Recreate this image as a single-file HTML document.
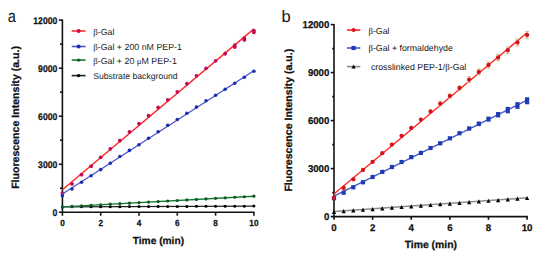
<!DOCTYPE html>
<html><head><meta charset="utf-8"><style>
html,body{margin:0;padding:0;background:#fff;}
body{width:550px;height:260px;overflow:hidden;}
svg{display:block;font-family:'Liberation Sans', sans-serif;}
text{text-rendering:geometricPrecision;}
text[font-weight=bold]{stroke:#111;stroke-width:0.25px;}
</style></head><body>
<svg width="550" height="260" viewBox="0 0 550 260" fill="#111">
<line x1="62.4" y1="19.5" x2="62.4" y2="215.7" stroke="#111" stroke-width="1.6" />
<line x1="58.9" y1="212.3" x2="254.5" y2="212.3" stroke="#111" stroke-width="1.6" />
<line x1="58.9" y1="164.25" x2="62.4" y2="164.25" stroke="#111" stroke-width="1.6" />
<line x1="58.9" y1="116.2" x2="62.4" y2="116.2" stroke="#111" stroke-width="1.6" />
<line x1="58.9" y1="68.15" x2="62.4" y2="68.15" stroke="#111" stroke-width="1.6" />
<line x1="58.9" y1="20.1" x2="62.4" y2="20.1" stroke="#111" stroke-width="1.6" />
<line x1="60" y1="188.27" x2="62.4" y2="188.27" stroke="#111" stroke-width="1.6" />
<line x1="60" y1="140.22" x2="62.4" y2="140.22" stroke="#111" stroke-width="1.6" />
<line x1="60" y1="92.17" x2="62.4" y2="92.17" stroke="#111" stroke-width="1.6" />
<line x1="60" y1="44.12" x2="62.4" y2="44.12" stroke="#111" stroke-width="1.6" />
<line x1="100.7" y1="212.3" x2="100.7" y2="215.7" stroke="#111" stroke-width="1.6" />
<line x1="139" y1="212.3" x2="139" y2="215.7" stroke="#111" stroke-width="1.6" />
<line x1="177.3" y1="212.3" x2="177.3" y2="215.7" stroke="#111" stroke-width="1.6" />
<line x1="215.6" y1="212.3" x2="215.6" y2="215.7" stroke="#111" stroke-width="1.6" />
<line x1="253.9" y1="212.3" x2="253.9" y2="215.7" stroke="#111" stroke-width="1.6" />
<line x1="62.4" y1="206.9" x2="253.9" y2="206.1" stroke="#222" stroke-width="1.3" />
<circle cx="62.4" cy="206.9" r="1.5" fill="#000"/>
<circle cx="71.97" cy="206.86" r="1.5" fill="#000"/>
<circle cx="81.55" cy="206.82" r="1.5" fill="#000"/>
<circle cx="91.12" cy="206.78" r="1.5" fill="#000"/>
<circle cx="100.7" cy="206.74" r="1.5" fill="#000"/>
<circle cx="110.28" cy="206.7" r="1.5" fill="#000"/>
<circle cx="119.85" cy="206.66" r="1.5" fill="#000"/>
<circle cx="129.42" cy="206.62" r="1.5" fill="#000"/>
<circle cx="139" cy="206.58" r="1.5" fill="#000"/>
<circle cx="148.57" cy="206.54" r="1.5" fill="#000"/>
<circle cx="158.15" cy="206.5" r="1.5" fill="#000"/>
<circle cx="167.72" cy="206.46" r="1.5" fill="#000"/>
<circle cx="177.3" cy="206.42" r="1.5" fill="#000"/>
<circle cx="186.88" cy="206.38" r="1.5" fill="#000"/>
<circle cx="196.45" cy="206.34" r="1.5" fill="#000"/>
<circle cx="206.03" cy="206.3" r="1.5" fill="#000"/>
<circle cx="215.6" cy="206.26" r="1.5" fill="#000"/>
<circle cx="225.17" cy="206.22" r="1.5" fill="#000"/>
<circle cx="234.75" cy="206.18" r="1.5" fill="#000"/>
<circle cx="244.32" cy="206.14" r="1.5" fill="#000"/>
<circle cx="253.9" cy="206.1" r="1.5" fill="#000"/>
<line x1="62.4" y1="206.9" x2="253.9" y2="196.3" stroke="#177a34" stroke-width="1.4" />
<circle cx="62.4" cy="206.9" r="1.6" fill="#0c5a28"/>
<circle cx="71.97" cy="206.37" r="1.6" fill="#0c5a28"/>
<circle cx="81.55" cy="205.83" r="1.6" fill="#0c5a28"/>
<circle cx="91.12" cy="205.3" r="1.6" fill="#0c5a28"/>
<circle cx="100.7" cy="204.76" r="1.6" fill="#0c5a28"/>
<circle cx="110.28" cy="204.22" r="1.6" fill="#0c5a28"/>
<circle cx="119.85" cy="203.69" r="1.6" fill="#0c5a28"/>
<circle cx="129.42" cy="203.16" r="1.6" fill="#0c5a28"/>
<circle cx="139" cy="202.62" r="1.6" fill="#0c5a28"/>
<circle cx="148.57" cy="202.09" r="1.6" fill="#0c5a28"/>
<circle cx="158.15" cy="201.55" r="1.6" fill="#0c5a28"/>
<circle cx="167.72" cy="201.01" r="1.6" fill="#0c5a28"/>
<circle cx="177.3" cy="200.48" r="1.6" fill="#0c5a28"/>
<circle cx="186.88" cy="199.94" r="1.6" fill="#0c5a28"/>
<circle cx="196.45" cy="199.41" r="1.6" fill="#0c5a28"/>
<circle cx="206.03" cy="198.88" r="1.6" fill="#0c5a28"/>
<circle cx="215.6" cy="198.34" r="1.6" fill="#0c5a28"/>
<circle cx="225.17" cy="197.8" r="1.6" fill="#0c5a28"/>
<circle cx="234.75" cy="197.27" r="1.6" fill="#0c5a28"/>
<circle cx="244.32" cy="196.73" r="1.6" fill="#0c5a28"/>
<circle cx="253.9" cy="196.2" r="1.6" fill="#0c5a28"/>
<line x1="62.4" y1="189.8" x2="253.9" y2="28.9" stroke="#ff2a2a" stroke-width="1.45" />
<rect x="60.55" y="191.4" width="3.7" height="3.8" rx="1.85" fill="#c20a55"/>
<rect x="70.12" y="182" width="3.7" height="3.8" rx="1.85" fill="#c20a55"/>
<rect x="79.7" y="172.7" width="3.7" height="3.8" rx="1.85" fill="#c20a55"/>
<rect x="89.28" y="164.2" width="3.7" height="3.8" rx="1.85" fill="#c20a55"/>
<rect x="98.85" y="155.4" width="3.7" height="3.8" rx="1.85" fill="#c20a55"/>
<rect x="108.43" y="146.9" width="3.7" height="3.8" rx="1.85" fill="#c20a55"/>
<rect x="118" y="138.7" width="3.7" height="3.8" rx="1.85" fill="#c20a55"/>
<rect x="127.57" y="129.9" width="3.7" height="3.8" rx="1.85" fill="#c20a55"/>
<rect x="137.15" y="121.8" width="3.7" height="3.8" rx="1.85" fill="#c20a55"/>
<rect x="146.72" y="113.7" width="3.7" height="3.8" rx="1.85" fill="#c20a55"/>
<rect x="156.3" y="105.6" width="3.7" height="3.8" rx="1.85" fill="#c20a55"/>
<rect x="165.88" y="97.9" width="3.7" height="3.8" rx="1.85" fill="#c20a55"/>
<rect x="175.45" y="89.9" width="3.7" height="3.8" rx="1.85" fill="#c20a55"/>
<rect x="185.03" y="81.8" width="3.7" height="3.8" rx="1.85" fill="#c20a55"/>
<rect x="194.6" y="73.9" width="3.7" height="3.8" rx="1.85" fill="#c20a55"/>
<rect x="204.18" y="66.4" width="3.7" height="3.8" rx="1.85" fill="#c20a55"/>
<rect x="213.75" y="58.9" width="3.7" height="3.8" rx="1.85" fill="#c20a55"/>
<rect x="223.32" y="51.5" width="3.7" height="4.2" rx="1.85" fill="#c20a55"/>
<rect x="232.9" y="43.3" width="3.7" height="5.6" rx="1.85" fill="#c20a55"/>
<rect x="242.47" y="36.2" width="3.7" height="5.6" rx="1.85" fill="#c20a55"/>
<rect x="252.05" y="28.7" width="3.7" height="5.6" rx="1.85" fill="#c20a55"/>
<line x1="62.4" y1="194" x2="253.9" y2="70.8" stroke="#4a55c8" stroke-width="1.3" />
<circle cx="62.4" cy="195.8" r="1.8" fill="#1a2cb2"/>
<circle cx="71.97" cy="189" r="1.8" fill="#1a2cb2"/>
<circle cx="81.55" cy="182.3" r="1.8" fill="#1a2cb2"/>
<circle cx="91.12" cy="175.8" r="1.8" fill="#1a2cb2"/>
<circle cx="100.7" cy="169.6" r="1.8" fill="#1a2cb2"/>
<circle cx="110.28" cy="163.3" r="1.8" fill="#1a2cb2"/>
<circle cx="119.85" cy="156.5" r="1.8" fill="#1a2cb2"/>
<circle cx="129.42" cy="150.4" r="1.8" fill="#1a2cb2"/>
<circle cx="139" cy="144.7" r="1.8" fill="#1a2cb2"/>
<circle cx="148.57" cy="138.3" r="1.8" fill="#1a2cb2"/>
<circle cx="158.15" cy="131.7" r="1.8" fill="#1a2cb2"/>
<circle cx="167.72" cy="125.3" r="1.8" fill="#1a2cb2"/>
<circle cx="177.3" cy="119.5" r="1.8" fill="#1a2cb2"/>
<circle cx="186.88" cy="113.2" r="1.8" fill="#1a2cb2"/>
<circle cx="196.45" cy="107.1" r="1.8" fill="#1a2cb2"/>
<circle cx="206.03" cy="100.8" r="1.8" fill="#1a2cb2"/>
<circle cx="215.6" cy="95.2" r="1.8" fill="#1a2cb2"/>
<circle cx="225.17" cy="89.2" r="1.8" fill="#1a2cb2"/>
<circle cx="234.75" cy="83.3" r="1.8" fill="#1a2cb2"/>
<circle cx="244.32" cy="77.3" r="1.8" fill="#1a2cb2"/>
<circle cx="253.9" cy="71.2" r="1.8" fill="#1a2cb2"/>
<text x="57.3" y="216.1" font-size="9.6" font-weight="bold" text-anchor="end" textLength="4.8" lengthAdjust="spacingAndGlyphs">0</text>
<text x="57.3" y="168.05" font-size="9.6" font-weight="bold" text-anchor="end" textLength="19.2" lengthAdjust="spacingAndGlyphs">3000</text>
<text x="57.3" y="120" font-size="9.6" font-weight="bold" text-anchor="end" textLength="19.2" lengthAdjust="spacingAndGlyphs">6000</text>
<text x="57.3" y="71.95" font-size="9.6" font-weight="bold" text-anchor="end" textLength="19.2" lengthAdjust="spacingAndGlyphs">9000</text>
<text x="57.3" y="23.9" font-size="9.6" font-weight="bold" text-anchor="end" textLength="24" lengthAdjust="spacingAndGlyphs">12000</text>
<text x="62.4" y="226.2" font-size="8.9" font-weight="bold" text-anchor="middle" textLength="4.55" lengthAdjust="spacingAndGlyphs">0</text>
<text x="100.7" y="226.2" font-size="8.9" font-weight="bold" text-anchor="middle" textLength="4.55" lengthAdjust="spacingAndGlyphs">2</text>
<text x="139" y="226.2" font-size="8.9" font-weight="bold" text-anchor="middle" textLength="4.55" lengthAdjust="spacingAndGlyphs">4</text>
<text x="177.3" y="226.2" font-size="8.9" font-weight="bold" text-anchor="middle" textLength="4.55" lengthAdjust="spacingAndGlyphs">6</text>
<text x="215.6" y="226.2" font-size="8.9" font-weight="bold" text-anchor="middle" textLength="4.55" lengthAdjust="spacingAndGlyphs">8</text>
<text x="253.9" y="226.2" font-size="8.9" font-weight="bold" text-anchor="middle" textLength="9.1" lengthAdjust="spacingAndGlyphs">10</text>
<text x="158.4" y="244" font-size="10.2" font-weight="bold" text-anchor="middle" >Time (min)</text>
<text transform="translate(18.6,117.45) rotate(-90)" font-size="10.58" font-weight="bold" text-anchor="middle">Fluorescence Intensity (a.u.)</text>
<text transform="translate(7.7,21.8) scale(0.85,1)" font-size="17.2">a</text>
<line x1="71.7" y1="31" x2="85.6" y2="31" stroke="#ff2a2a" stroke-width="1.6" />
<circle cx="78.6" cy="31" r="2" fill="#c20a55"/>
<text x="93.2" y="34.6" font-size="8.85" font-weight="normal" text-anchor="start" fill="#1c1c1c"><tspan font-family="Liberation Serif">&#946;</tspan>-Gal</text>
<line x1="71.7" y1="46.5" x2="85.6" y2="46.5" stroke="#4a55c8" stroke-width="1.6" />
<circle cx="78.6" cy="46.5" r="2" fill="#1a2cb2"/>
<text x="93.2" y="50.1" font-size="8.85" font-weight="normal" text-anchor="start" fill="#1c1c1c"><tspan font-family="Liberation Serif">&#946;</tspan>-Gal + 200 nM PEP-1</text>
<line x1="71.7" y1="60.1" x2="85.6" y2="60.1" stroke="#177a34" stroke-width="1.6" />
<circle cx="78.6" cy="60.1" r="1.7" fill="#0c5a28"/>
<text x="93.2" y="63.7" font-size="8.85" font-weight="normal" text-anchor="start" fill="#1c1c1c"><tspan font-family="Liberation Serif">&#946;</tspan>-Gal + 20 <tspan font-family="Liberation Serif">&#956;</tspan>M PEP-1</text>
<line x1="71.7" y1="75.6" x2="85.6" y2="75.6" stroke="#222" stroke-width="1.6" />
<circle cx="78.6" cy="75.6" r="1.7" fill="#000"/>
<text x="93.2" y="79" font-size="8.65" font-weight="normal" text-anchor="start" fill="#1c1c1c">Substrate background</text>
<line x1="334" y1="23.9" x2="334" y2="219.8" stroke="#111" stroke-width="1.6" />
<line x1="330.8" y1="216.6" x2="527.8" y2="216.6" stroke="#111" stroke-width="1.6" />
<line x1="330.8" y1="168.6" x2="334" y2="168.6" stroke="#111" stroke-width="1.6" />
<line x1="330.8" y1="120.6" x2="334" y2="120.6" stroke="#111" stroke-width="1.6" />
<line x1="330.8" y1="72.6" x2="334" y2="72.6" stroke="#111" stroke-width="1.6" />
<line x1="330.8" y1="24.6" x2="334" y2="24.6" stroke="#111" stroke-width="1.6" />
<line x1="332.2" y1="192.6" x2="334" y2="192.6" stroke="#111" stroke-width="1.6" />
<line x1="332.2" y1="144.6" x2="334" y2="144.6" stroke="#111" stroke-width="1.6" />
<line x1="332.2" y1="96.6" x2="334" y2="96.6" stroke="#111" stroke-width="1.6" />
<line x1="332.2" y1="48.6" x2="334" y2="48.6" stroke="#111" stroke-width="1.6" />
<line x1="372.62" y1="216.6" x2="372.62" y2="219.8" stroke="#111" stroke-width="1.6" />
<line x1="411.24" y1="216.6" x2="411.24" y2="219.8" stroke="#111" stroke-width="1.6" />
<line x1="449.86" y1="216.6" x2="449.86" y2="219.8" stroke="#111" stroke-width="1.6" />
<line x1="488.48" y1="216.6" x2="488.48" y2="219.8" stroke="#111" stroke-width="1.6" />
<line x1="527.1" y1="216.6" x2="527.1" y2="219.8" stroke="#111" stroke-width="1.6" />
<line x1="334" y1="211.6" x2="527.1" y2="197.8" stroke="#8c8c8c" stroke-width="1.5" />
<path d="M334 209.71L336.1 213.91L331.9 213.91Z" fill="#000"/>
<path d="M343.65 209.02L345.75 213.22L341.55 213.22Z" fill="#000"/>
<path d="M353.31 208.33L355.41 212.53L351.21 212.53Z" fill="#000"/>
<path d="M362.96 207.64L365.06 211.84L360.86 211.84Z" fill="#000"/>
<path d="M372.62 206.95L374.72 211.15L370.52 211.15Z" fill="#000"/>
<path d="M382.27 206.26L384.38 210.46L380.17 210.46Z" fill="#000"/>
<path d="M391.93 205.57L394.03 209.77L389.83 209.77Z" fill="#000"/>
<path d="M401.58 204.88L403.69 209.08L399.48 209.08Z" fill="#000"/>
<path d="M411.24 204.19L413.34 208.39L409.14 208.39Z" fill="#000"/>
<path d="M420.89 203.5L423 207.7L418.79 207.7Z" fill="#000"/>
<path d="M430.55 202.81L432.65 207.01L428.45 207.01Z" fill="#000"/>
<path d="M440.2 202.12L442.31 206.32L438.1 206.32Z" fill="#000"/>
<path d="M449.86 201.43L451.96 205.63L447.76 205.63Z" fill="#000"/>
<path d="M459.51 200.74L461.62 204.94L457.41 204.94Z" fill="#000"/>
<path d="M469.17 200.05L471.27 204.25L467.07 204.25Z" fill="#000"/>
<path d="M478.82 199.36L480.93 203.56L476.72 203.56Z" fill="#000"/>
<path d="M488.48 198.67L490.58 202.87L486.38 202.87Z" fill="#000"/>
<path d="M498.13 197.98L500.24 202.18L496.03 202.18Z" fill="#000"/>
<path d="M507.79 197.29L509.89 201.49L505.69 201.49Z" fill="#000"/>
<path d="M517.44 196.6L519.54 200.8L515.34 200.8Z" fill="#000"/>
<path d="M527.1 195.91L529.2 200.11L525 200.11Z" fill="#000"/>
<line x1="334" y1="196.2" x2="527.1" y2="100.2" stroke="#4656c4" stroke-width="1.3" />
<rect x="331.9" y="196.1" width="4.2" height="4.2" fill="#1e3ab4"/>
<rect x="341.55" y="190.6" width="4.2" height="4.2" fill="#1e3ab4"/>
<rect x="351.21" y="185.2" width="4.2" height="4.2" fill="#1e3ab4"/>
<rect x="360.86" y="180.2" width="4.2" height="4.2" fill="#1e3ab4"/>
<rect x="370.52" y="174.9" width="4.2" height="4.2" fill="#1e3ab4"/>
<rect x="380.17" y="169.8" width="4.2" height="4.2" fill="#1e3ab4"/>
<rect x="389.83" y="164.9" width="4.2" height="4.2" fill="#1e3ab4"/>
<rect x="399.48" y="159.9" width="4.2" height="4.2" fill="#1e3ab4"/>
<rect x="409.14" y="155" width="4.2" height="4.2" fill="#1e3ab4"/>
<rect x="418.79" y="150.8" width="4.2" height="4.2" fill="#1e3ab4"/>
<rect x="428.45" y="145.9" width="4.2" height="4.2" fill="#1e3ab4"/>
<rect x="438.1" y="141.2" width="4.2" height="4.2" fill="#1e3ab4"/>
<rect x="447.76" y="136.2" width="4.2" height="4.2" fill="#1e3ab4"/>
<rect x="457.41" y="131.1" width="4.2" height="4.2" fill="#1e3ab4"/>
<rect x="467.07" y="126.35" width="4.2" height="4.3" fill="#1e3ab4"/>
<rect x="476.72" y="121.5" width="4.2" height="4.6" fill="#1e3ab4"/>
<rect x="486.38" y="116.6" width="4.2" height="5" fill="#1e3ab4"/>
<rect x="496.03" y="112" width="4.2" height="5.4" fill="#1e3ab4"/>
<rect x="505.69" y="106.9" width="4.2" height="6.4" fill="#1e3ab4"/>
<rect x="515.34" y="102.15" width="4.2" height="6.7" fill="#1e3ab4"/>
<rect x="525" y="97.3" width="4.2" height="7" fill="#1e3ab4"/>
<line x1="334" y1="194" x2="527.1" y2="32.8" stroke="#ff2222" stroke-width="1.4" />
<circle cx="334" cy="197.9" r="2.15" fill="#d0141c"/>
<circle cx="343.65" cy="188" r="2.15" fill="#d0141c"/>
<circle cx="353.31" cy="179.3" r="2.15" fill="#d0141c"/>
<circle cx="362.96" cy="170" r="2.15" fill="#d0141c"/>
<circle cx="372.62" cy="161.9" r="2.15" fill="#d0141c"/>
<circle cx="382.27" cy="153.2" r="2.15" fill="#d0141c"/>
<circle cx="391.93" cy="144.6" r="2.15" fill="#d0141c"/>
<circle cx="401.58" cy="135.8" r="2.15" fill="#d0141c"/>
<circle cx="411.24" cy="128" r="2.15" fill="#d0141c"/>
<circle cx="420.89" cy="119.6" r="2.15" fill="#d0141c"/>
<circle cx="430.55" cy="111.4" r="2.15" fill="#d0141c"/>
<g stroke="#cfbd78" stroke-width="1" opacity="0.55">
<line x1="440.2" y1="101.12" x2="440.2" y2="106.07" stroke="#cfbd78" stroke-width="1" />
<line x1="438.2" y1="101.12" x2="442.2" y2="101.12" stroke="#cfbd78" stroke-width="1" />
<line x1="438.2" y1="106.07" x2="442.2" y2="106.07" stroke="#cfbd78" stroke-width="1" />
</g>
<circle cx="440.2" cy="103.6" r="2.15" fill="#d0141c"/>
<g stroke="#cfbd78" stroke-width="1" opacity="0.55">
<line x1="449.86" y1="93.3" x2="449.86" y2="98.5" stroke="#cfbd78" stroke-width="1" />
<line x1="447.86" y1="93.3" x2="451.86" y2="93.3" stroke="#cfbd78" stroke-width="1" />
<line x1="447.86" y1="98.5" x2="451.86" y2="98.5" stroke="#cfbd78" stroke-width="1" />
</g>
<circle cx="449.86" cy="95.9" r="2.15" fill="#d0141c"/>
<g stroke="#cfbd78" stroke-width="1" opacity="0.55">
<line x1="459.51" y1="85.28" x2="459.51" y2="90.72" stroke="#cfbd78" stroke-width="1" />
<line x1="457.51" y1="85.28" x2="461.51" y2="85.28" stroke="#cfbd78" stroke-width="1" />
<line x1="457.51" y1="90.72" x2="461.51" y2="90.72" stroke="#cfbd78" stroke-width="1" />
</g>
<circle cx="459.51" cy="88" r="2.15" fill="#d0141c"/>
<g stroke="#cfbd78" stroke-width="1" opacity="1.0">
<line x1="469.17" y1="76.75" x2="469.17" y2="82.45" stroke="#cfbd78" stroke-width="1" />
<line x1="467.17" y1="76.75" x2="471.17" y2="76.75" stroke="#cfbd78" stroke-width="1" />
<line x1="467.17" y1="82.45" x2="471.17" y2="82.45" stroke="#cfbd78" stroke-width="1" />
</g>
<circle cx="469.17" cy="79.6" r="2.15" fill="#d0141c"/>
<g stroke="#cfbd78" stroke-width="1" opacity="1.0">
<line x1="478.82" y1="69.03" x2="478.82" y2="74.97" stroke="#cfbd78" stroke-width="1" />
<line x1="476.82" y1="69.03" x2="480.82" y2="69.03" stroke="#cfbd78" stroke-width="1" />
<line x1="476.82" y1="74.97" x2="480.82" y2="74.97" stroke="#cfbd78" stroke-width="1" />
</g>
<circle cx="478.82" cy="72" r="2.15" fill="#d0141c"/>
<g stroke="#cfbd78" stroke-width="1" opacity="1.0">
<line x1="488.48" y1="61.9" x2="488.48" y2="68.1" stroke="#cfbd78" stroke-width="1" />
<line x1="486.48" y1="61.9" x2="490.48" y2="61.9" stroke="#cfbd78" stroke-width="1" />
<line x1="486.48" y1="68.1" x2="490.48" y2="68.1" stroke="#cfbd78" stroke-width="1" />
</g>
<circle cx="488.48" cy="65" r="2.15" fill="#d0141c"/>
<g stroke="#cfbd78" stroke-width="1" opacity="1.0">
<line x1="498.13" y1="54.27" x2="498.13" y2="60.73" stroke="#cfbd78" stroke-width="1" />
<line x1="496.13" y1="54.27" x2="500.13" y2="54.27" stroke="#cfbd78" stroke-width="1" />
<line x1="496.13" y1="60.73" x2="500.13" y2="60.73" stroke="#cfbd78" stroke-width="1" />
</g>
<circle cx="498.13" cy="57.5" r="2.15" fill="#d0141c"/>
<g stroke="#cfbd78" stroke-width="1" opacity="1.0">
<line x1="507.79" y1="46.9" x2="507.79" y2="53.6" stroke="#cfbd78" stroke-width="1" />
<line x1="505.79" y1="46.9" x2="509.79" y2="46.9" stroke="#cfbd78" stroke-width="1" />
<line x1="505.79" y1="53.6" x2="509.79" y2="53.6" stroke="#cfbd78" stroke-width="1" />
</g>
<circle cx="507.79" cy="50.25" r="2.15" fill="#d0141c"/>
<g stroke="#cfbd78" stroke-width="1" opacity="1.0">
<line x1="517.44" y1="39.02" x2="517.44" y2="45.98" stroke="#cfbd78" stroke-width="1" />
<line x1="515.44" y1="39.02" x2="519.44" y2="39.02" stroke="#cfbd78" stroke-width="1" />
<line x1="515.44" y1="45.98" x2="519.44" y2="45.98" stroke="#cfbd78" stroke-width="1" />
</g>
<circle cx="517.44" cy="42.5" r="2.15" fill="#d0141c"/>
<g stroke="#cfbd78" stroke-width="1" opacity="1.0">
<line x1="527.1" y1="31.4" x2="527.1" y2="38.6" stroke="#cfbd78" stroke-width="1" />
<line x1="525.1" y1="31.4" x2="529.1" y2="31.4" stroke="#cfbd78" stroke-width="1" />
<line x1="525.1" y1="38.6" x2="529.1" y2="38.6" stroke="#cfbd78" stroke-width="1" />
</g>
<circle cx="527.1" cy="35" r="2.15" fill="#d0141c"/>
<text x="329.3" y="219.6" font-size="9.9" font-weight="bold" text-anchor="end" textLength="5.35" lengthAdjust="spacingAndGlyphs">0</text>
<text x="329.3" y="171.6" font-size="9.9" font-weight="bold" text-anchor="end" textLength="21.4" lengthAdjust="spacingAndGlyphs">3000</text>
<text x="329.3" y="123.6" font-size="9.9" font-weight="bold" text-anchor="end" textLength="21.4" lengthAdjust="spacingAndGlyphs">6000</text>
<text x="329.3" y="75.6" font-size="9.9" font-weight="bold" text-anchor="end" textLength="21.4" lengthAdjust="spacingAndGlyphs">9000</text>
<text x="329.3" y="27.6" font-size="9.9" font-weight="bold" text-anchor="end" textLength="26.75" lengthAdjust="spacingAndGlyphs">12000</text>
<text x="334" y="231.2" font-size="9.7" font-weight="bold" text-anchor="middle" >0</text>
<text x="372.62" y="231.2" font-size="9.7" font-weight="bold" text-anchor="middle" >2</text>
<text x="411.24" y="231.2" font-size="9.7" font-weight="bold" text-anchor="middle" >4</text>
<text x="449.86" y="231.2" font-size="9.7" font-weight="bold" text-anchor="middle" >6</text>
<text x="488.48" y="231.2" font-size="9.7" font-weight="bold" text-anchor="middle" >8</text>
<text x="527.1" y="231.2" font-size="9.7" font-weight="bold" text-anchor="middle" >10</text>
<text x="430.8" y="248.2" font-size="10.4" font-weight="bold" text-anchor="middle" >Time (min)</text>
<text transform="translate(291.9,120.2) rotate(-90)" font-size="10.58" font-weight="bold" text-anchor="middle">Fluorescence Intensity (a.u.)</text>
<text x="281.5" y="21.8" font-size="16.5" font-weight="normal" text-anchor="start" >b</text>
<line x1="347" y1="30.1" x2="360.3" y2="30.1" stroke="#ff2222" stroke-width="1.6" />
<circle cx="353.6" cy="30.1" r="2" fill="#d0141c"/>
<text x="368.4" y="33.5" font-size="8.8" font-weight="normal" text-anchor="start" fill="#141414"><tspan font-family="Liberation Serif">&#946;</tspan>-Gal</text>
<line x1="347" y1="48" x2="360.3" y2="48" stroke="#4656c4" stroke-width="1.6" />
<rect x="351.5" y="45.9" width="4.2" height="4.2" fill="#1e3ab4"/>
<text x="368.4" y="51.4" font-size="8.8" font-weight="normal" text-anchor="start" fill="#141414"><tspan font-family="Liberation Serif">&#946;</tspan>-Gal + formaldehyde</text>
<line x1="347" y1="66.6" x2="360.3" y2="66.6" stroke="#8c8c8c" stroke-width="1.6" />
<path d="M353.6 64.41L355.7 68.61L351.5 68.61Z" fill="#000"/>
<text x="370.9" y="70" font-size="8.8" font-weight="normal" text-anchor="start" fill="#141414">crosslinked PEP-1/<tspan font-family="Liberation Serif">&#946;</tspan>-Gal</text>
</svg>
</body></html>
